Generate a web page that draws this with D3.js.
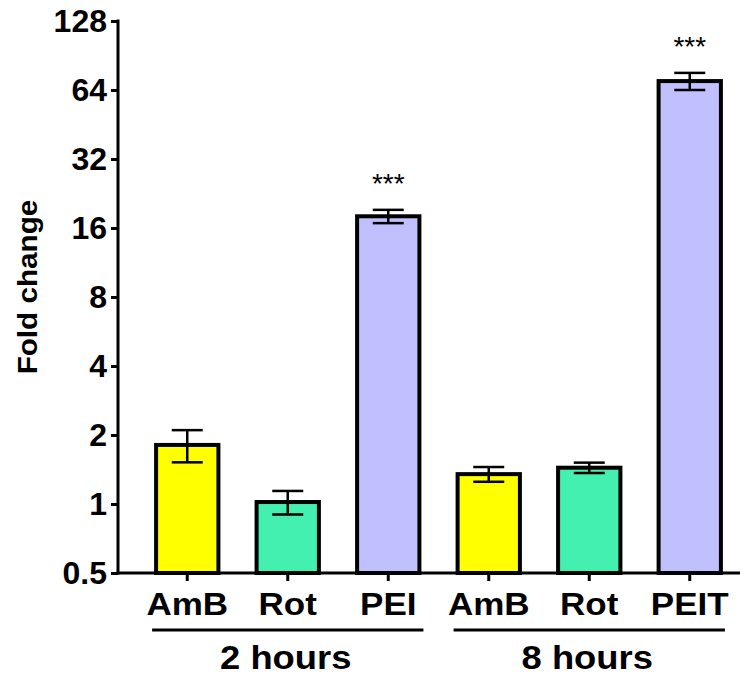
<!DOCTYPE html>
<html>
<head>
<meta charset="utf-8">
<script src="https://cdn.jsdelivr.net/npm/d3@7"></script>
<style>
  body { margin: 0; background: #fff; }
  svg { font-family: "Liberation Sans", Arial, sans-serif; }
</style>
</head>
<body>
<main></main>
<script>
// data
const labels = ["AmB", "Rot", "PEI", "AmB", "Rot", "PEIT"]
const groupOf = [0, 0, 0, 1, 1, 1]
const groups = ["2 hours", "8 hours"]
const means = [1.81, 1.02, 18.0, 1.35, 1.44, 70]
const sds = [0.29, 0.12, 1.2, 0.1, 0.075, 6]
const stars = ["", "", "***", "", "", "***"]
const colors = ["#ffff00", "#44f0b0", "#c0c0ff", "#ffff00", "#44f0b0", "#c0c0ff"]
const yTicks = [0.5, 1, 2, 4, 8, 16, 32, 64, 128]

const w = 748
const h = 675
const axisX = 118
const axisY = 573

const dataset = labels.map((l, i) => ({
  id: i,
  label: l,
  group: groupOf[i],
  mean: means[i],
  sd: sds[i],
  star: stars[i],
  color: colors[i],
}))

const svg = d3.select("main").append("svg").attr("width", w).attr("height", h)

const yScale = d3.scaleLog().base(2).domain([0.5, 128]).range([axisY, 21])

const xScale = d3
  .scaleBand()
  .domain(dataset.map((d) => d.id))
  .range([137, 740])
  .paddingInner(0.38)
  .paddingOuter(0.19)

const bw = xScale.bandwidth()

// bars
svg
  .selectAll("rect.bar")
  .data(dataset)
  .enter()
  .append("rect")
  .attr("class", "bar")
  .attr("x", (d) => xScale(d.id))
  .attr("y", (d) => yScale(d.mean))
  .attr("width", bw)
  .attr("height", (d) => axisY - yScale(d.mean))
  .attr("fill", (d) => d.color)
  .attr("stroke", "#000")
  .attr("stroke-width", 4)

// error bars
const err = svg.append("g").attr("stroke", "#000").attr("stroke-width", 2.5)
dataset.forEach((d) => {
  const cx = xScale(d.id) + bw / 2
  const hi = yScale(d.mean + d.sd)
  const lo = yScale(d.mean - d.sd)
  err.append("line").attr("x1", cx).attr("x2", cx).attr("y1", hi).attr("y2", lo)
  err.append("line").attr("x1", cx - 15.5).attr("x2", cx + 15.5).attr("y1", hi).attr("y2", hi)
  err.append("line").attr("x1", cx - 15.5).attr("x2", cx + 15.5).attr("y1", lo).attr("y2", lo)
})

// significance
svg
  .selectAll("text.star")
  .data(dataset.filter((d) => d.star !== ""))
  .enter()
  .append("text")
  .attr("class", "star")
  .attr("x", (d) => xScale(d.id) + bw / 2)
  .attr("y", (d) => yScale(d.mean + d.sd) - 17)
  .attr("text-anchor", "middle")
  .attr("font-size", 28)
  .text((d) => d.star)

// y axis
const yAxis = d3
  .axisLeft(yScale)
  .tickValues(yTicks)
  .tickFormat((d) => d)
  .tickSize(7)
  .tickPadding(4)

const yg = svg
  .append("g")
  .attr("id", "y-axis")
  .attr("transform", `translate(${axisX},0)`)
  .call(yAxis)
yg.select(".domain").remove()
yg.selectAll(".tick line").attr("stroke-width", 3)
yg.selectAll(".tick text")
  .attr("font-size", 32)
  .attr("font-weight", "bold")
  .attr("font-family", "Liberation Sans, Arial, sans-serif")
  .attr("fill", "#000")
yg.append("line")
  .attr("x1", 0).attr("x2", 0)
  .attr("y1", 19.5).attr("y2", axisY + 1.5)
  .attr("stroke", "#000").attr("stroke-width", 3)

// x axis line
svg
  .append("line")
  .attr("x1", axisX - 1.5)
  .attr("x2", 740)
  .attr("y1", axisY)
  .attr("y2", axisY)
  .attr("stroke", "#000")
  .attr("stroke-width", 3)

// category ticks and labels (glyphs in the figure are a bit wider than Arial)
const xg = svg.append("g").attr("id", "x-axis")
dataset.forEach((d) => {
  const cx = xScale(d.id) + bw / 2
  xg.append("line")
    .attr("x1", cx).attr("x2", cx)
    .attr("y1", axisY).attr("y2", axisY + 8)
    .attr("stroke", "#000").attr("stroke-width", 3)
  xg.append("text")
    .attr("transform", `translate(${cx},615) scale(1.13,1)`)
    .attr("text-anchor", "middle")
    .attr("font-size", 31)
    .attr("font-weight", "bold")
    .text(d.label)
})

// group brackets
groups.forEach((g, gi) => {
  const members = dataset.filter((d) => d.group === gi)
  const x0 = xScale(members[0].id) - 4
  const x1 = xScale(members[members.length - 1].id) + bw + 4
  svg
    .append("line")
    .attr("x1", x0).attr("x2", x1)
    .attr("y1", 630).attr("y2", 630)
    .attr("stroke", "#000").attr("stroke-width", 3)
  svg
    .append("text")
    .attr("transform", `translate(${(x0 + x1) / 2 - 2},669) scale(1.07,1)`)
    .attr("text-anchor", "middle")
    .attr("font-size", 34)
    .attr("font-weight", "bold")
    .text(g)
})

// y axis title
svg
  .append("text")
  .attr("transform", "translate(37,287) rotate(-90) scale(1.06,1)")
  .attr("text-anchor", "middle")
  .attr("font-size", 28)
  .attr("font-weight", "bold")
  .text("Fold change")
</script>
</body>
</html>
